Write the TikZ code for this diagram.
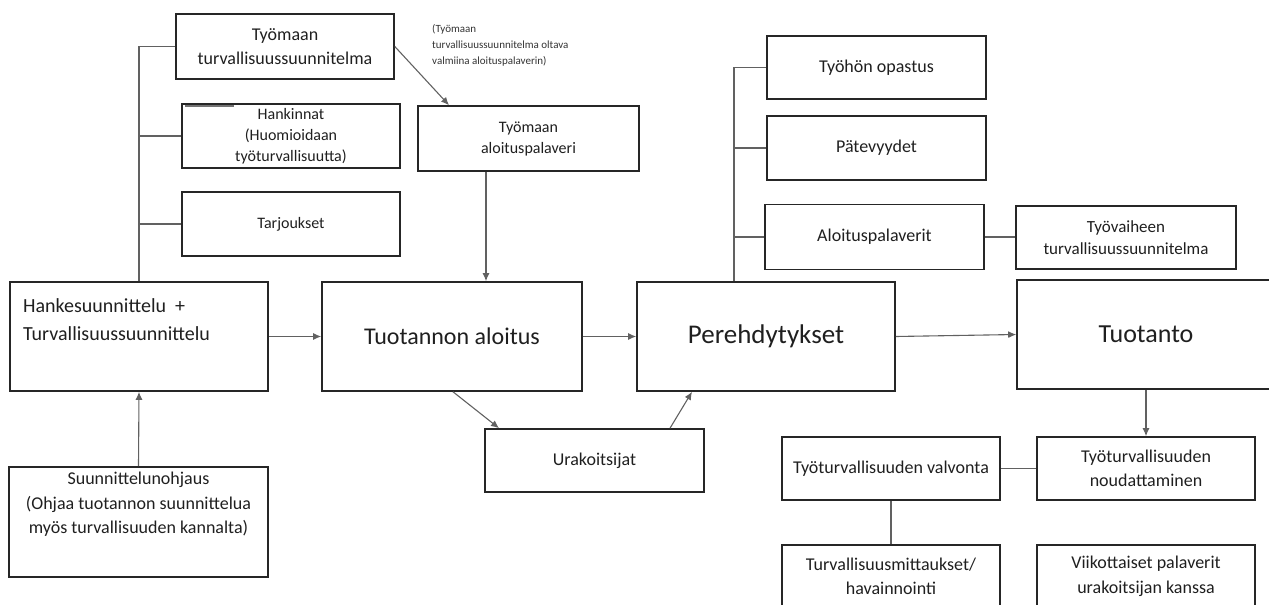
\documentclass[tikz,border=0pt]{standalone}
\usepackage{fontspec}
\setmainfont{Carlito}
\usetikzlibrary{arrows.meta}
\tikzset{
  box/.style={draw=black!85, line width=1.6pt, inner sep=2pt, align=center, text=black!88},
  fxs/.style={font=\fontsize{11}{16}\selectfont},
  fsm/.style={font=\fontsize{16}{21}\selectfont},
  fmd/.style={font=\fontsize{18}{24.5}\selectfont},
  fhk/.style={font=\fontsize{20}{28}\selectfont},
  flg/.style={font=\fontsize{26}{30}\selectfont},
  conn/.style={draw=black!62, line width=1.1pt},
  arr/.style={conn, -{Latex[length=8pt,width=7pt]}},
}
\begin{document}
\begin{tikzpicture}[x=1pt,y=-1pt]
\useasboundingbox (0,0) rectangle (1269,605);
% left column
\node[box, minimum width=258, minimum height=109] (hanke) at (139,336.5) {};
\node[fhk, anchor=north west, inner sep=0, align=left, text=black!88] (hanketxt) at (23,298) {Hankesuunnittelu\ \ +\\Turvallisuussuunnittelu};
\node[box, minimum width=259, minimum height=110] (suun) at (138.5,522) {};
\node[fmd, anchor=north, inner sep=0, align=center, text=black!88] (suuntxt) at (138.5,472) {Suunnittelunohjaus\\(Ohjaa tuotannon suunnittelua\\myös turvallisuuden kannalta)};
\node[box, fmd, minimum width=218, minimum height=65] (tts) at (285,46.5) {Työmaan\\turvallisuussuunnitelma};
\node[box, fsm, minimum width=218, minimum height=64] (hank) at (291,136) {Hankinnat\\(Huomioidaan\\työturvallisuutta)};
\node[box, fsm, minimum width=218, minimum height=64] (tarj) at (291,224) {Tarjoukset};
% middle
\node[fxs, anchor=north west, inner sep=0, align=left, text=black!80] (note) at (432,24) {(Työmaan\\turvallisuussuunnitelma oltava\\valmiina aloituspalaverin)};
\node[box, fsm, minimum width=221, minimum height=65] (aloit) at (528.5,138.5) {Työmaan\\aloituspalaveri};
\node[box, font=\fontsize{24}{28}\selectfont, minimum width=260, minimum height=109] (tuot) at (452,336.5) {Tuotannon aloitus};
\node[box, fmd, minimum width=219, minimum height=63] (urak) at (594.5,460.5) {Urakoitsijat};
\node[box, font=\fontsize{27}{30}\selectfont, minimum width=258, minimum height=109] (pere) at (766,336.5) {Perehdytykset};
% right upper
\node[box, fmd, minimum width=219, minimum height=63] (opas) at (876.5,67.5) {Työhön opastus};
\node[box, fmd, minimum width=219, minimum height=64] (pate) at (876.5,148) {Pätevyydet};
\node[box, fmd, minimum width=219, minimum height=65] (aloi2) at (874.5,237) {Aloituspalaverit};
\node[box, font=\fontsize{17}{22}\selectfont, minimum width=220, minimum height=63] (tyov) at (1126,237.5) {Työvaiheen\\turvallisuussuunnitelma};
% right lower
\node[box, flg, minimum width=258, minimum height=109] (tuotanto) at (1146,334.5) {Tuotanto};
\node[box, fmd, minimum width=218, minimum height=63] (noud) at (1146,468.5) {Työturvallisuuden\\noudattaminen};
\node[box, fmd, minimum width=218, minimum height=63] (valv) at (891,468.5) {Työturvallisuuden valvonta};
\node[box, fmd, minimum width=218, minimum height=63] (turv) at (891,576.5) {Turvallisuusmittaukset/\\havainnointi};
\node[box, fmd, minimum width=218, minimum height=63] (viik) at (1146,576.5) {Viikottaiset palaverit\\urakoitsijan kanssa};
% small grey mark on the Hankinnat box
\draw[black!55, line width=2pt] ([shift={(4,3)}]hank.north west) -- ([shift={(53,3)}]hank.north west);
% helper x positions
\coordinate (xa) at (486,0);
\coordinate (xb) at (449,0);
\coordinate (xc) at (453,0);
\coordinate (xd) at (499,0);
\coordinate (xe) at (670,0);
\coordinate (xf) at (692,0);
\coordinate (xg) at (734,0);
% left tree
\draw[conn] (hanke.north) |- (tts.west);
\draw[conn] (hanke.north) |- (hank.west);
\draw[conn] (hanke.north) |- (tarj.west);
% right tree
\draw[conn] (pere.north -| xg) |- (opas.west);
\draw[conn] (pere.north -| xg) |- (pate.west);
\draw[conn] (pere.north -| xg) |- (aloi2.west);
\draw[conn] (aloi2.east) -- (aloi2.east -| tyov.west);
% arrows
\draw[arr] (suun.north) -- (hanke.south);
\draw[arr] (hanke.east) -- (tuot.west);
\draw[arr] (tuot.east) -- (pere.west);
\draw[arr] (pere.east) -- (tuotanto.west);
\draw[arr] (tts.east) -- (aloit.north -| xb);
\draw[arr] (aloit.south -| xa) -- (tuot.north -| xa);
\draw[arr] (tuot.south -| xc) -- (urak.north -| xd);
\draw[arr] (urak.north -| xe) -- (pere.south -| xf);
\draw[arr] (tuotanto.south) -- (noud.north);
\draw[conn] (valv.east) -- (noud.west);
\draw[conn] (valv.south) -- (turv.north);
\end{tikzpicture}
\end{document}
